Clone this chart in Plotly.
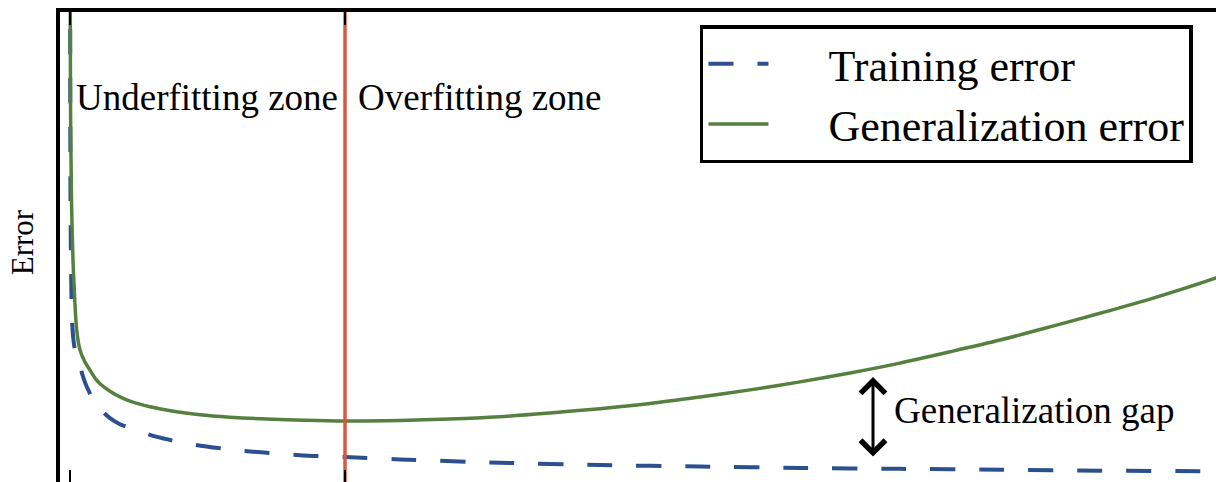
import plotly.graph_objects as go

# Model capacity (arbitrary units): 0 = first tick, 1 = optimal capacity
gen_x = [0.0007, 0.0018, 0.0055, 0.0109, 0.0175, 0.0244, 0.0364, 0.0545, 0.0727, 0.0909,
         0.1091, 0.1455, 0.1818, 0.2182, 0.2909, 0.3818, 0.4727, 0.5818, 0.7164, 0.8545,
         1.0, 1.2, 1.3818, 1.5636, 1.7455, 1.9273, 2.1091, 2.2909, 2.4727, 2.6545,
         2.8364, 3.0182, 3.2, 3.3818, 3.5636, 3.7455, 3.9273, 4.1673, 4.218]
gen_err = [10.68, 8.13, 6.00, 4.72, 3.85, 3.23, 2.81, 2.55, 2.38, 2.21,
           2.09, 1.93, 1.81, 1.72, 1.60, 1.50, 1.43, 1.38, 1.34, 1.315,
           1.30, 1.31, 1.34, 1.39, 1.47, 1.56, 1.67, 1.81, 1.96, 2.13,
           2.32, 2.53, 2.77, 3.02, 3.30, 3.59, 3.89, 4.34, 4.45]

train_x = [0.0004, 0.0018, 0.0036, 0.0073, 0.0120, 0.0182, 0.0273, 0.0364, 0.0455, 0.0545,
           0.0727, 0.0909, 0.1182, 0.1455, 0.1818, 0.2364, 0.3164, 0.4545, 0.6364, 0.8364,
           1.0, 1.2, 1.5636, 1.9273, 2.2909, 2.6545, 3.0182, 3.3818, 3.7455, 4.1673, 4.218]
train_err = [10.68, 6.00, 4.72, 3.45, 3.05, 2.80, 2.62, 2.45, 2.28, 2.12,
             1.88, 1.68, 1.50, 1.36, 1.23, 1.11, 0.96, 0.79, 0.66, 0.57,
             0.53, 0.48, 0.41, 0.36, 0.33, 0.30, 0.28, 0.26, 0.24, 0.23, 0.23]

optimal_capacity = 1.0
tick_vals = [0.0, 1.0]
x_range = [-0.03636, 4.16727]
y_range = [0, 10]
gap_x = 2.92
gap_top, gap_bottom = 2.234, 0.51

SERIF = "Liberation Serif, Times New Roman, serif"
BLUE = "#2c4f8e"
GREEN = "#56803f"
RED = "#d6583e"
PAD = "\u00a0" * 5

fig = go.Figure()
fig.add_trace(go.Scatter(x=train_x, y=train_err, mode="lines", name=PAD + "Training error",
                         line=dict(color=BLUE, width=4, dash="25px,24px", shape="spline", smoothing=0.8)))
fig.add_trace(go.Scatter(x=gen_x, y=gen_err, mode="lines", name=PAD + "Generalization error",
                         line=dict(color=GREEN, width=3.5, shape="spline", smoothing=0.8)))
fig.add_trace(go.Scatter(x=[optimal_capacity, optimal_capacity], y=[y_range[0] - 1, y_range[1] + 1],
                         mode="lines", line=dict(color=RED, width=3.5), showlegend=False, hoverinfo="skip"))
fig.add_trace(go.Scatter(x=[tick_vals[0]], y=[y_range[0]], xaxis="x2", mode="markers",
                         marker=dict(opacity=0), showlegend=False, hoverinfo="skip"))

fig.add_annotation(x=0.0155, y=8.19, xref="x", yref="y", text="Underfitting zone", showarrow=False,
                   xanchor="left", yanchor="middle", font=dict(family=SERIF, size=37, color="black"))
fig.add_annotation(x=1.04, y=8.19, xref="x", yref="y", text="Overfitting zone", showarrow=False,
                   xanchor="left", yanchor="middle", font=dict(family=SERIF, size=37, color="black"))
fig.add_annotation(x=2.99, y=1.53, xref="x", yref="y", text="Generalization gap", showarrow=False,
                   xanchor="left", yanchor="middle", font=dict(family=SERIF, size=37, color="black"))
fig.add_annotation(x=gap_x, y=gap_top, ax=gap_x, ay=gap_bottom, xref="x", yref="y", axref="x", ayref="y",
                   text="", showarrow=True, arrowhead=4, startarrowhead=4, arrowside="end+start",
                   arrowwidth=3, arrowsize=1.6, startarrowsize=1.6, arrowcolor="black",
                   standoff=0, startstandoff=0)
fig.add_annotation(x=0, y=0.51, xref="paper", yref="paper", xshift=-38, text="Error", textangle=-90,
                   showarrow=False, xanchor="center", yanchor="middle",
                   font=dict(family=SERIF, size=31, color="black"))

fig.update_layout(
    width=1216, height=482,
    margin=dict(l=60, r=0, t=12, b=0),
    paper_bgcolor="white", plot_bgcolor="white",
    showlegend=True,
    legend=dict(x=0.5536, y=0.972, xanchor="left", yanchor="top",
                bordercolor="black", borderwidth=3.5, bgcolor="white",
                font=dict(family=SERIF, size=44, color="black"), itemwidth=60,
                tracegroupgap=0),
    xaxis=dict(range=x_range, side="top", showline=True, linecolor="black", linewidth=3.5,
               ticks="inside", tickvals=tick_vals, ticklen=13, tickwidth=2, tickcolor="black",
               showticklabels=False, showgrid=False, zeroline=False),
    xaxis2=dict(range=x_range, overlaying="x", side="bottom", showline=False,
                ticks="inside", tickvals=tick_vals, ticklen=12, tickwidth=2, tickcolor="black",
                showticklabels=False, showgrid=False, zeroline=False),
    yaxis=dict(range=y_range, showline=True, linecolor="black", linewidth=3.5, ticks="",
               showticklabels=False, showgrid=False, zeroline=False),
)

fig.write_html("out.html")
